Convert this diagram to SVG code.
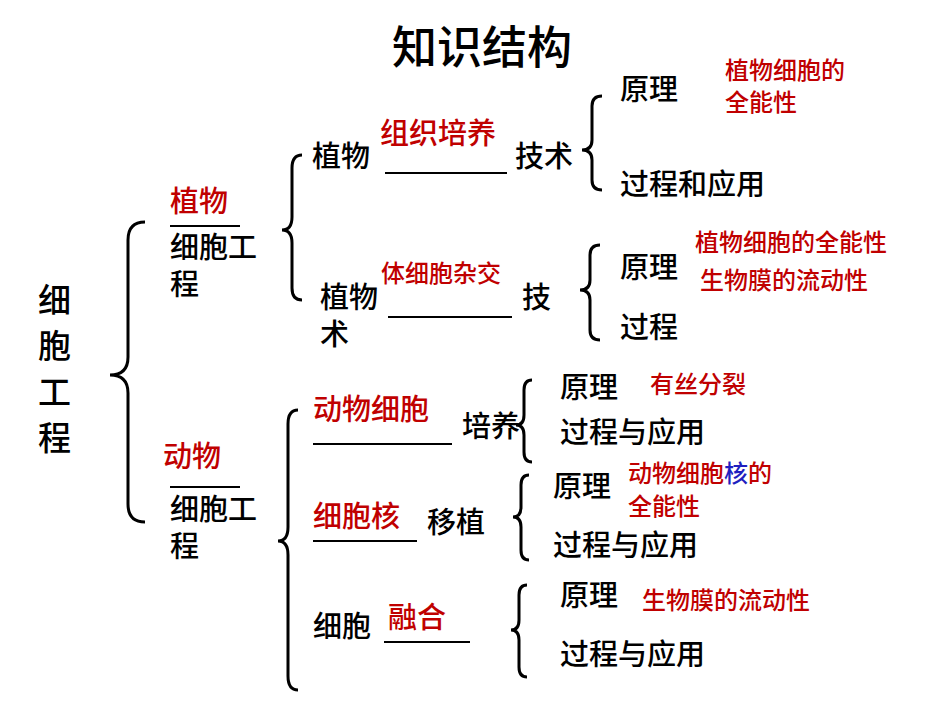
<svg xmlns="http://www.w3.org/2000/svg" width="950" height="713" viewBox="0 0 950 713">
<style>
text{font-family:"Noto Sans CJK SC","Noto Sans",sans-serif;fill:#000;font-weight:500}
.t{font-size:29px}
.r{fill:#c00000;font-size:24px}
.rb{fill:#c00000;font-size:29px}
.l{stroke:#000;stroke-width:2;fill:none}
.b{stroke:#000;stroke-width:3;fill:none}
</style>
<rect width="950" height="713" fill="#fff"/>
<text x="482" y="64" font-size="45" font-weight="normal" text-anchor="middle">知识结构</text>
<g id="root"><text font-size="33" x="38" y="312">细</text><text font-size="33" x="38" y="358">胞</text><text font-size="33" x="38" y="404">工</text><text font-size="33" x="38" y="450">程</text></g>
<g id="connectors">
<path class="b" d="M145,222 Q128,222 128,240 L128,357 Q128,375 110,375 Q128,375 128,393 L128,504 Q128,522 145,522"/>
<path class="b" d="M302,155 Q292,155 292,168 L292,217 Q292,230 282,230 Q292,230 292,243 L292,288 Q292,300 302,300"/>
<path class="b" d="M298,410 Q288,410 288,424 L288,527 Q288,541 278,541 Q288,541 288,555 L288,676 Q288,690 298,690"/>
<path class="b" d="M602,96 Q592,96 592,106 L592,140 Q592,150 582,150 Q592,150 592,160 L592,180 Q592,190 602,190"/>
<path class="b" d="M600,245 Q590,245 590,255 L590,280 Q590,290 580,290 Q590,290 590,300 L590,330 Q590,340 600,340"/>
<path class="b" d="M532,380 Q524,380 524,390 L524,415 Q524,425 516,425 Q524,425 524,435 L524,452 Q524,462 532,462"/>
<path class="b" d="M529,475 Q521,475 521,485 L521,507 Q521,517 513,517 Q521,517 521,527 L521,550 Q521,560 529,560"/>
<path class="b" d="M527,585 Q519,585 519,595 L519,620 Q519,630 511,630 Q519,630 519,640 L519,667 Q519,677 527,677"/>
</g>
<g id="plant"><text class="rb" x="170" y="212">植物</text><line class="l" x1="170" y1="226" x2="240" y2="226"/><text class="t" x="170" y="258">细胞工</text><text class="t" x="170" y="295">程</text></g>
<g id="animal"><text class="rb" x="163" y="467">动物</text><line class="l" x1="170" y1="487" x2="240" y2="487"/><text class="t" x="170" y="520">细胞工</text><text class="t" x="170" y="557">程</text></g>
<g id="tissue"><text class="t" x="312" y="167">植物</text><line class="l" x1="385" y1="173" x2="507" y2="173"/><text class="t" x="515" y="167">技术</text><text class="rb" x="380" y="144">组织培养</text></g>
<g id="tissue-p"><text class="t" x="620" y="100">原理</text><text class="r" x="725" y="79">植物细胞的</text><text class="r" x="725" y="111">全能性</text></g>
<g id="tissue-a"><text class="t" x="620" y="195">过程和应用</text></g>
<g id="hybrid"><text class="r" x="381" y="282">体细胞杂交</text><text class="t" x="320" y="308">植物</text><text class="t" x="320" y="345">术</text><line class="l" x1="388" y1="317" x2="512" y2="317"/><text class="t" x="522" y="308">技</text></g>
<g id="hybrid-p"><text class="t" x="620" y="278">原理</text><text class="r" x="695" y="251">植物细胞的全能性</text><text class="r" x="700" y="289">生物膜的流动性</text></g>
<g id="hybrid-a"><text class="t" x="620" y="338">过程</text></g>
<g id="culture"><text class="rb" x="313" y="420">动物细胞</text><line class="l" x1="313" y1="444" x2="452" y2="444"/><text class="t" x="462" y="437">培养</text></g>
<g id="culture-p"><text class="t" x="560" y="398">原理</text><text class="r" x="650" y="393">有丝分裂</text></g>
<g id="culture-a"><text class="t" x="560" y="443">过程与应用</text></g>
<g id="nuclear"><text class="rb" x="313" y="527">细胞核</text><line class="l" x1="313" y1="541" x2="417" y2="541"/><text class="t" x="427" y="533">移植</text></g>
<g id="nuclear-p"><text class="t" x="553" y="497">原理</text><text class="r" x="628" y="482">动物细胞<tspan fill="#1f1fc0">核</tspan>的</text><text class="r" x="628" y="515">全能性</text></g>
<g id="nuclear-a"><text class="t" x="553" y="556">过程与应用</text></g>
<g id="fusion"><text class="t" x="313" y="637">细胞</text><line class="l" x1="384" y1="642" x2="470" y2="642"/><text class="rb" x="388" y="628">融合</text></g>
<g id="fusion-p"><text class="t" x="560" y="606">原理</text><text class="r" x="642" y="609">生物膜的流动性</text></g>
<g id="fusion-a"><text class="t" x="560" y="665">过程与应用</text></g>
</svg>
